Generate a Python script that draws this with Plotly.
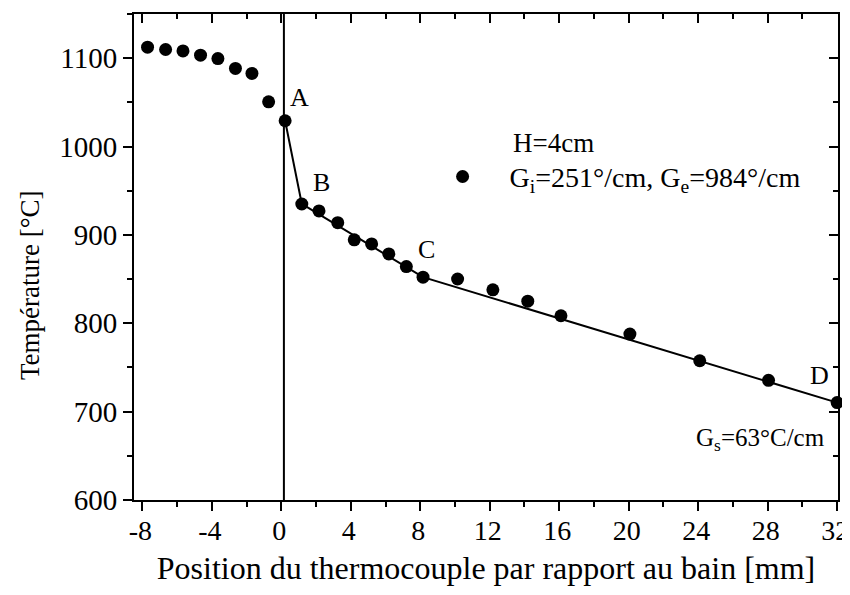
import plotly.graph_objects as go

# Measured thermocouple positions (mm) and temperatures (°C)
pos_mm = [-7.7, -6.66, -5.66, -4.65, -3.65, -2.64, -1.69, -0.73, 0.22,
          1.18, 2.17, 3.25, 4.2, 5.2, 6.19, 7.2, 8.16,
          10.15, 12.18, 14.19, 16.1, 20.07, 24.09, 28.05, 32.0]
temp_c = [1112.5, 1109.8, 1108.2, 1103.4, 1099.6, 1088.4, 1082.7, 1050.6, 1029.2,
          935.0, 927.1, 913.9, 894.4, 889.8, 878.5, 864.2, 852.2,
          850.1, 837.9, 825.0, 808.5, 787.8, 757.6, 735.4, 710.2]

# Piecewise gradient fit A-B-C-D
fit_x = [0.22, 1.18, 8.16, 32.0]
fit_y = [1029.2, 935.0, 852.2, 710.2]

# Bath surface line (x = 0)
bath_x = [0.15, 0.15]
bath_y = [600, 1150]

# Point labels
label_text = ["A", "B", "C", "D"]
label_x = [1.07, 2.33, 8.35, 31.0]
label_y = [1055, 959, 883, 741]

x_range = [-8.48, 32.05]
y_range = [600, 1150]
x_ticks = [-8, -4, 0, 4, 8, 12, 16, 20, 24, 28, 32]
x_tick_text = ["-8", "-4", "0", "4", "8", "12", "16", "20", "24", "28", "32"]
y_ticks = [600, 700, 800, 900, 1000, 1100]

FONT = "Liberation Serif, Times New Roman, DejaVu Serif, serif"

fig = go.Figure()
fig.add_trace(go.Scatter(x=bath_x, y=bath_y, mode="lines",
                         line=dict(color="black", width=2),
                         showlegend=False, hoverinfo="skip"))
fig.add_trace(go.Scatter(x=fit_x, y=fit_y, mode="lines",
                         line=dict(color="black", width=2),
                         showlegend=False, hoverinfo="skip"))
fig.add_trace(go.Scatter(x=pos_mm, y=temp_c, mode="markers",
                         marker=dict(color="black", size=13),
                         name="G<sub>i</sub>=251°/cm, G<sub>e</sub>=984°/cm",
                         showlegend=True, cliponaxis=False))
# helper trace for mirrored (inside-tick) top/right axes
fig.add_trace(go.Scatter(x=[None], y=[None], xaxis="x2", yaxis="y2",
                         showlegend=False, hoverinfo="skip"))

for t, xx, yy in zip(label_text, label_x, label_y):
    fig.add_annotation(x=xx, y=yy, text=t, showarrow=False,
                       font=dict(family=FONT, size=26, color="black"))

fig.add_annotation(x=13.23, y=1004, text="H=4cm", showarrow=False,
                   xanchor="left", yanchor="middle",
                   font=dict(family=FONT, size=27, color="black"))
fig.add_annotation(x=31.4, y=668, text="G<sub>s</sub>=63°C/cm", showarrow=False,
                   xanchor="right", yanchor="middle",
                   font=dict(family=FONT, size=25, color="black"))
# y-axis title
fig.add_annotation(xref="paper", yref="paper", x=-0.148, y=0.442,
                   text="Température [°C]", textangle=-90, showarrow=False,
                   xanchor="center", yanchor="middle",
                   font=dict(family=FONT, size=27, color="black"))

axis_common = dict(showgrid=False, zeroline=False, showline=True,
                   linecolor="black", linewidth=2, tickcolor="black",
                   tickwidth=2, automargin=False)

fig.update_layout(
    width=842, height=579,
    margin=dict(l=126, r=12, t=6, b=87, autoexpand=False),
    paper_bgcolor="white", plot_bgcolor="white",
    font=dict(family=FONT, color="black"),
    xaxis=dict(range=x_range, tickmode="array", tickvals=x_ticks,
               ticktext=x_tick_text, ticks="outside", ticklen=9,
               ticklabeloverflow="allow", ticklabelshift=-2,
               ticklabelstandoff=-5,
               minor=dict(dtick=2, tick0=0, ticks="outside", ticklen=5,
                          tickwidth=2, tickcolor="black"),
               tickfont=dict(family=FONT, size=28, color="black"),
               title=dict(text="Position du thermocouple par rapport au bain [mm]",
                          font=dict(family=FONT, size=32, color="black"),
                          standoff=12),
               **axis_common),
    yaxis=dict(range=y_range, tickmode="array", tickvals=y_ticks,
               ticks="outside", ticklen=9,
               minor=dict(dtick=50, tick0=0, ticks="outside", ticklen=5,
                          tickwidth=2, tickcolor="black"),
               tickfont=dict(family=FONT, size=29, color="black"),
               **axis_common),
    xaxis2=dict(range=x_range, overlaying="x", side="top", anchor="y2",
                tickmode="linear", tick0=0, dtick=4, ticks="inside", ticklen=9,
                minor=dict(dtick=2, tick0=0, ticks="inside", ticklen=5,
                           tickwidth=2, tickcolor="black"),
                showticklabels=False, **axis_common),
    yaxis2=dict(range=y_range, overlaying="y", side="right", anchor="x2",
                tickmode="linear", tick0=0, dtick=100, ticks="inside", ticklen=9,
                minor=dict(dtick=50, tick0=0, ticks="inside", ticklen=5,
                           tickwidth=2, tickcolor="black"),
                showticklabels=False, **axis_common),
    legend=dict(x=0.40, y=0.665, xanchor="left", yanchor="middle",
                itemwidth=84, bgcolor="rgba(0,0,0,0)",
                font=dict(family=FONT, size=28, color="black")),
)

fig.write_html("out.html")
